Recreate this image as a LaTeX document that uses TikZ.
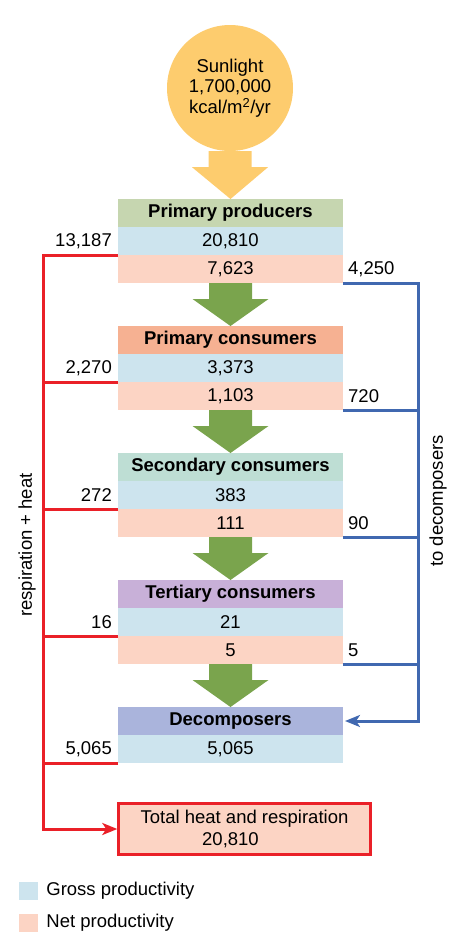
\documentclass[tikz,border=0pt]{standalone}
\usepackage{fontspec}
\setmainfont{Liberation Sans}
\usepackage{tikz}
\usetikzlibrary{arrows.meta,positioning}
\usepackage{xcolor}

\definecolor{sunyellow}{RGB}{253,204,110}
\definecolor{leafgreen}{RGB}{122,164,77}
\definecolor{grossblue}{RGB}{205,228,238}
\definecolor{netpeach}{RGB}{252,212,196}
\definecolor{producergreen}{RGB}{198,214,176}
\definecolor{primarysalmon}{RGB}{246,177,146}
\definecolor{secondaryteal}{RGB}{190,222,212}
\definecolor{tertiarylilac}{RGB}{200,176,216}
\definecolor{decomposerblue}{RGB}{170,180,220}
\definecolor{heatred}{RGB}{234,32,40}
\definecolor{decoblue}{RGB}{64,104,176}

\newcommand{\blockarrow}[3]{%
\fill[#1] ([xshift=-21.5pt]#2) -- ([xshift=21.5pt]#2) -- ([xshift=21.5pt,yshift=-16pt]#2)
 -- ([xshift=38pt,yshift=-16pt]#2) -- (#3) -- ([xshift=-38pt,yshift=-16pt]#2)
 -- ([xshift=-21.5pt,yshift=-16pt]#2) -- cycle;}

\begin{document}
\begin{tikzpicture}[x=1pt,y=-1pt,>={Stealth[length=15pt,width=12pt,inset=4pt]},
 every node/.style={font=\fontsize{18.5}{21}\selectfont},
 tierrow/.style={minimum width=225pt,minimum height=28pt,inner sep=0pt,outer sep=0pt},
 headrow/.style={tierrow,font=\fontsize{18.5}{21}\selectfont\bfseries},
 grossrow/.style={tierrow,fill=grossblue},
 netrow/.style={tierrow,fill=netpeach},
 flow/.style={inner sep=0pt},
 heat/.style={heatred,line width=3pt},
 decay/.style={decoblue,line width=3pt},
 legendkey/.style={minimum width=19pt,minimum height=18pt,inner sep=0pt}]
\useasboundingbox (0,0) rectangle (469,951);
%%%SUN
\node[circle,fill=sunyellow,minimum size=126pt,inner sep=0pt,align=center,
 font=\fontsize{18.5}{20.5}\selectfont] (sun) at (230,88)
 {Sunlight\\1,700,000\\kcal/m\textsuperscript{2}/yr};
%%%LEVELS
\node[headrow,fill=producergreen,anchor=north] (pp) at (230.5,199) {Primary producers};
\node[grossrow,below=0pt of pp] (ppg) {20,810};
\node[netrow,below=0pt of ppg] (ppn) {7,623};
\node[headrow,fill=primarysalmon,below=43pt of ppn] (pc) {Primary consumers};
\node[grossrow,below=0pt of pc] (pcg) {3,373};
\node[netrow,below=0pt of pcg] (pcn) {1,103};
\node[headrow,fill=secondaryteal,below=43pt of pcn] (sc) {Secondary consumers};
\node[grossrow,below=0pt of sc] (scg) {383};
\node[netrow,below=0pt of scg] (scn) {111};
\node[headrow,fill=tertiarylilac,below=43pt of scn] (tc) {Tertiary consumers};
\node[grossrow,below=0pt of tc] (tcg) {21};
\node[netrow,below=0pt of tcg] (tcn) {5};
\node[headrow,fill=decomposerblue,below=43pt of tcn] (de) {Decomposers};
\node[grossrow,below=0pt of de] (deg) {5,065};
\node[draw=heatred,line width=2.4pt,fill=netpeach,minimum width=252pt,minimum height=51pt,
 align=center,font=\fontsize{18.5}{22}\selectfont] (total) at (244.5,829)
 {Total heat and respiration\\20,810\hspace*{28pt}};
%%%BIG ARROWS
\blockarrow{sunyellow}{sun.south}{pp.north}
\blockarrow{leafgreen}{ppn.south}{pc.north}
\blockarrow{leafgreen}{pcn.south}{sc.north}
\blockarrow{leafgreen}{scn.south}{tc.north}
\blockarrow{leafgreen}{tcn.south}{de.north}
%%%RESPIRATION + HEAT
\coordinate (heatx) at (43,0);
\draw[heat,->] (ppg.south west) -| (heatx |- total.west) -- (total.west);
\draw[heat] (pcg.south west) -- (pcg.south west -| heatx);
\draw[heat] (scg.south west) -- (scg.south west -| heatx);
\draw[heat] (tcg.south west) -- (tcg.south west -| heatx);
\draw[heat] (deg.south west) -- (deg.south west -| heatx);
\node[flow,left=6pt of ppg] (ppheat) {13,187};
\node[flow,left=6pt of pcg] (pcheat) {2,270};
\node[flow,left=6pt of scg] (scheat) {272};
\node[flow,left=6pt of tcg] (tcheat) {16};
\node[flow,left=6pt of deg] (deheat) {5,065};
\node[rotate=90] (heatlabel) at (27,545) {respiration + heat};
%%%TO DECOMPOSERS
\coordinate (decox) at (418,0);
\draw[decay,->,shorten >=2pt] (ppn.south east) -| (decox |- de.east) -- (de.east);
\draw[decay] (pcn.south east) -- (pcn.south east -| decox);
\draw[decay] (scn.south east) -- (scn.south east -| decox);
\draw[decay] (tcn.south east) -- (tcn.south east -| decox);
\node[flow,right=5pt of ppn] (ppdecay) {4,250};
\node[flow,right=5pt of pcn] (pcdecay) {720};
\node[flow,right=5pt of scn] (scdecay) {90};
\node[flow,right=5pt of tcn] (tcdecay) {5};
\node[rotate=90] (decaylabel) at (438,501) {to decomposers};
%%%LEGEND
\node[legendkey,fill=grossblue] (grosskey) at (28.5,891) {};
\node[flow,right=8pt of grosskey] (grosstext) {Gross productivity};
\node[legendkey,fill=netpeach] (netkey) at (28.5,922.5) {};
\node[flow,right=8pt of netkey] (nettext) {Net productivity};
\end{tikzpicture}
\end{document}
